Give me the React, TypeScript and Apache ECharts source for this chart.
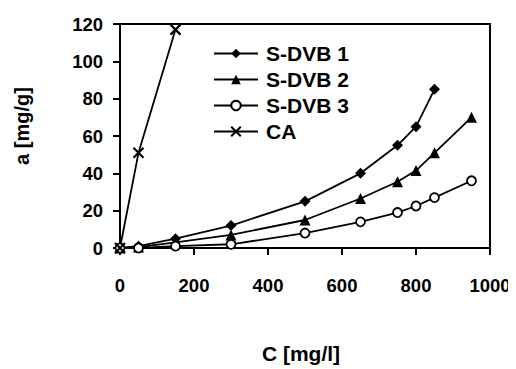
import React, { useEffect, useRef } from "react";
import * as echarts from "echarts";

const xS1 = [0, 50, 150, 300, 500, 650, 750, 800, 850];
const yS1 = [0, 1, 5, 12, 25, 40, 55, 65, 85];
const xS2 = [0, 50, 150, 300, 500, 650, 750, 800, 850, 950];
const yS2 = [0, 0.5, 3, 7, 15, 26.5, 35.5, 41.5, 51, 70];
const xS3 = [0, 50, 150, 300, 500, 650, 750, 800, 850, 950];
const yS3 = [0, 0, 1, 2, 8, 14, 19, 22.5, 27, 36];
const xCA = [0, 50, 150];
const yCA = [0, 51, 117];
const seriesNames = ["S-DVB 1", "S-DVB 2", "S-DVB 3", "CA"];

const zip = (xs: number[], ys: number[]) => xs.map((x, i) => [x, ys[i]]);

const FONT = "Liberation Sans, Arial, sans-serif";
const CROSS = "path://M0,0L10,10M10,0L0,10";

const tickRich = {
  t: { fontFamily: FONT, fontWeight: "bold", fontSize: 18.5, color: "#000", lineHeight: 20 },
};

export default function App() {
  const ref = useRef<HTMLDivElement>(null);
  useEffect(() => {
    if (!ref.current) return;
    const chart = echarts.init(ref.current, null, { renderer: "svg" });
    const lineStyle = { color: "#000", width: 1.8 };
    chart.setOption({
      animation: false,
      backgroundColor: "#fff",
      textStyle: { fontFamily: FONT },
      grid: {
        left: 120,
        right: 26,
        top: 24,
        bottom: 117,
        show: true,
        borderColor: "#000",
        borderWidth: 2,
        backgroundColor: "transparent",
      },
      legend: {
        orient: "vertical",
        left: 208,
        top: 38,
        itemWidth: 44,
        itemHeight: 12,
        itemGap: 5,
        data: seriesNames,
        textStyle: {
          fontFamily: FONT,
          fontWeight: "bold",
          fontSize: 21,
          color: "#000",
          lineHeight: 20,
          padding: [0, 0, 0, 3],
        },
      },
      xAxis: {
        type: "value",
        min: 0,
        max: 1000,
        interval: 200,
        name: "C [mg/l]",
        nameLocation: "middle",
        nameGap: 95,
        nameTextStyle: { fontFamily: FONT, fontWeight: "bold", fontSize: 21, color: "#000", padding: [0, 8, 0, 0] },
        axisLine: { show: true, lineStyle: { color: "#000", width: 2 } },
        axisTick: { show: true, inside: false, length: 7, lineStyle: { color: "#000", width: 2 } },
        axisLabel: {
          margin: 27,
          formatter: (v: number) => `{t|${v}}`,
          rich: tickRich,
          fontSize: 18.5,
        },
        splitLine: { show: false },
      },
      yAxis: {
        type: "value",
        min: 0,
        max: 120,
        interval: 20,
        name: "a [mg/g]",
        nameLocation: "middle",
        nameGap: 88,
        nameTextStyle: { fontFamily: FONT, fontWeight: "bold", fontSize: 20, color: "#000", padding: [0, 0, 0, 20] },
        axisLine: { show: true, lineStyle: { color: "#000", width: 2 } },
        axisTick: { show: true, inside: false, length: 7, lineStyle: { color: "#000", width: 2 } },
        axisLabel: {
          margin: 17,
          formatter: (v: number) => `{t|${v}}`,
          rich: tickRich,
          fontSize: 18.5,
        },
        splitLine: { show: false },
      },
      series: [
        {
          name: seriesNames[0],
          type: "line",
          data: zip(xS1, yS1),
          symbol: "diamond",
          symbolSize: 11,
          showAllSymbol: true,
          lineStyle,
          itemStyle: { color: "#000", borderColor: "#000", borderWidth: 0 },
        },
        {
          name: seriesNames[1],
          type: "line",
          data: zip(xS2, yS2),
          symbol: "triangle",
          symbolSize: 11,
          showAllSymbol: true,
          lineStyle,
          itemStyle: { color: "#000", borderColor: "#000", borderWidth: 0 },
        },
        {
          name: seriesNames[2],
          type: "line",
          data: zip(xS3, yS3),
          symbol: "circle",
          symbolSize: 9,
          showAllSymbol: true,
          lineStyle,
          itemStyle: { color: "#fff", borderColor: "#000", borderWidth: 1.8 },
        },
        {
          name: seriesNames[3],
          type: "line",
          data: zip(xCA, yCA),
          symbol: CROSS,
          symbolSize: 10,
          showAllSymbol: true,
          lineStyle,
          itemStyle: { color: "#000", borderColor: "#000", borderWidth: 2.2 },
        },
      ],
    });
    return () => chart.dispose();
  }, []);
  return <div ref={ref} style={{ width: 516, height: 369, marginLeft: -8, marginTop: -8 }} />;
}
